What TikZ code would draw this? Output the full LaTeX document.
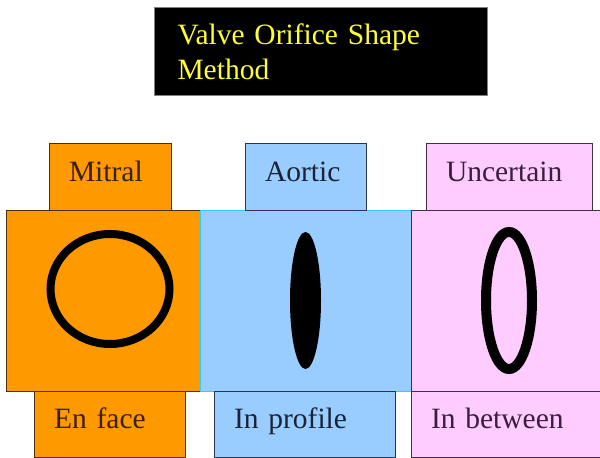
\documentclass[tikz,border=0pt]{standalone}
\usepackage{fontspec}
\setmainfont{Liberation Serif}
\usepackage{xcolor}
\usetikzlibrary{positioning,shapes.geometric}
\definecolor{mitral}{HTML}{FF9900}
\definecolor{mitralline}{HTML}{4D2E0F}
\definecolor{mitraltext}{HTML}{3B2006}
\definecolor{aortic}{HTML}{99CCFF}
\definecolor{aorticrim}{HTML}{33CCFF}
\definecolor{aorticline}{HTML}{2A3550}
\definecolor{aortictext}{HTML}{1A2338}
\definecolor{unsure}{HTML}{FFCCFF}
\definecolor{unsureline}{HTML}{403040}
\definecolor{unsuretext}{HTML}{3A1F3A}
\definecolor{titletext}{HTML}{FFFF33}
\tikzset{
  panel/.style={rectangle, minimum height=181pt, inner sep=0pt, outer sep=0pt, line width=1pt},
  tab/.style={rectangle, inner xsep=20pt, inner ysep=0pt, outer sep=0pt, line width=1pt, align=left, font=\fontsize{29.5}{34}\selectfont},
  uptab/.style={tab, text height=38pt, text depth=29pt},
  lowtab/.style={tab, text height=37pt, text depth=29pt},
  ring/.style={ellipse, draw=black, inner sep=0pt},
}
\begin{document}
\begin{tikzpicture}[x=1pt, y=-1pt]
\useasboundingbox[fill=white] (0,0) rectangle (600,458);
% title
\node[fill=black, draw=gray, line width=1pt, anchor=north west, minimum height=88pt, inner xsep=23pt, text width=287pt, align=left, text=titletext, font=\fontsize{29.5}{35}\selectfont] (title) at (154,7) {Valve Orifice Shape\\Method};
% the three panels
\node[panel, fill=mitral, draw=mitralline, minimum width=194pt, anchor=north west] (mitral) at (6,210) {};
\node[panel, fill=aortic, draw=aorticrim, minimum width=211pt] (aortic) [right=0pt of mitral] {};
\node[panel, fill=unsure, draw=unsureline, minimum width=190pt] (unsure) [right=0pt of aortic] {};
% tabs above
\node[uptab, fill=mitral, draw=mitralline, text=mitraltext, text width=82pt] (mtop) [above right=0pt and 43pt of mitral.north west] {Mitral};
\node[uptab, fill=aortic, draw=aorticline, text=aortictext, text width=81pt] (atop) [above right=0pt and 45pt of aortic.north west] {Aortic};
\node[uptab, fill=unsure, draw=unsureline, text=unsuretext, text width=126pt] (utop) [above right=0pt and 15pt of unsure.north west] {Uncertain};
% tabs below
\node[lowtab, fill=mitral, draw=mitralline, text=mitraltext, text width=111pt] (mlow) [below right=0pt and 28pt of mitral.south west] {En face};
\node[lowtab, fill=aortic, draw=aorticline, text=aortictext, text width=141pt] (alow) [below right=0pt and 14pt of aortic.south west] {In profile};
\node[lowtab, fill=unsure, draw=unsureline, text=unsuretext, text width=150pt] (ulow) [below right=0pt and 0pt of unsure.south west] {In between};
% orifice shapes
\node[ring, line width=8pt, minimum width=119pt, minimum height=110pt] (mring) at (110,289) {};
\node[ellipse, fill=black, inner sep=0pt, minimum width=31pt, minimum height=137pt] (aslit) at (305.5,300.5) {};
\node[ring, line width=10pt, minimum width=46pt, minimum height=137pt] (uring) at (509,300.5) {};
\end{tikzpicture}
\end{document}
